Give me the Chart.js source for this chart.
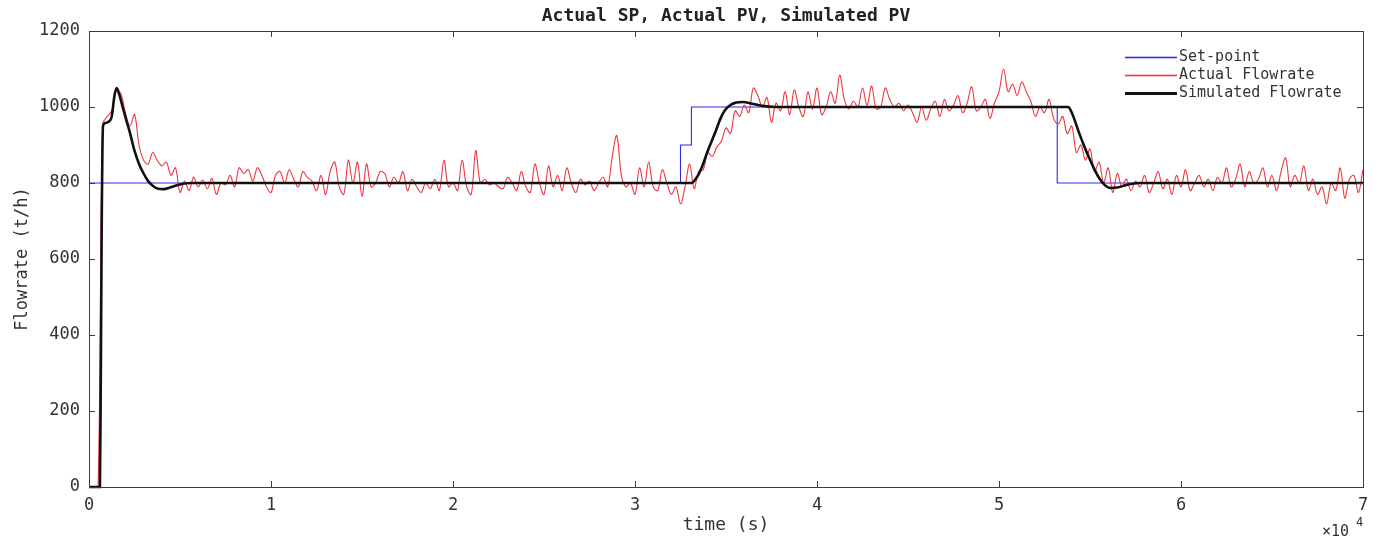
<!DOCTYPE html>
<html>
<head>
<meta charset="utf-8">
<title>Actual SP, Actual PV, Simulated PV</title>
<script src="https://cdn.jsdelivr.net/npm/chart.js@4.4.1/dist/chart.umd.min.js"></script>
<style>
  html, body { margin: 0; padding: 0; background: #fff; }
  #wrap { width: 1390px; height: 544px; position: relative; }
</style>
</head>
<body>
<div id="wrap"><canvas id="flowChart"></canvas></div>
<script>
// ── Dados ────────────────────────────────────────────────────
// set-point (degraus)
const spTime  = [0, 32500, 33100, 53200, 70000];
const spValue = [800, 900, 1000, 800, 800];

// vazão real, uma amostra a cada RED_STEP segundos
const RED_STEP = 250;
const actualValue = [
  0, 0, 0, 955, 975, 990, 1045, 1035, 985, 950, 980, 900, 860, 850, 880, 860, 845, 855, 820, 840,
  775, 805, 780, 815, 790, 808, 785, 812, 770, 800, 795, 820, 790, 840, 825, 835, 805, 840, 820, 790,
  775, 820, 830, 800, 835, 810, 790, 830, 815, 805, 780, 820, 770, 830, 855, 790, 770, 860, 800, 855,
  765, 850, 790, 800, 830, 825, 790, 815, 800, 830, 780, 810, 790, 775, 800, 785, 810, 780, 860, 790,
  800, 780, 860, 790, 770, 885, 800, 810, 795, 800, 790, 785, 815, 800, 780, 830, 790, 775, 850, 800,
  770, 845, 790, 820, 780, 840, 800, 775, 810, 795, 805, 780, 800, 815, 790, 870, 925, 820, 790, 800,
  770, 840, 790, 855, 790, 780, 835, 800, 770, 790, 745, 790, 850, 785, 830, 835, 880, 870, 895, 910,
  945, 930, 990, 975, 1005, 985, 1050, 1030, 1000, 1025, 960, 1010, 990, 1040, 980, 1045, 1000, 975, 1040, 995,
  1050, 980, 1000, 1040, 1010, 1084, 1020, 995, 1015, 1000, 1050, 1005, 1055, 995, 1000, 1050, 1020, 1000, 1010, 990,
  1005, 985, 960, 1000, 965, 995, 1015, 975, 1020, 990, 1005, 1030, 985, 1010, 1053, 990, 1000, 1020, 970, 1010,
  1040, 1100, 1040, 1060, 1030, 1066, 1040, 1015, 975, 1000, 985, 1020, 970, 955, 975, 930, 950, 880, 900, 860,
  890, 830, 855, 800, 840, 775, 825, 790, 810, 780, 805, 790, 820, 775, 800, 830, 785, 810, 770, 820,
  790, 835, 780, 800, 820, 790, 810, 780, 815, 800, 840, 790, 810, 850, 790, 830, 800, 810, 840, 790,
  820, 780, 830, 866, 790, 820, 800, 845, 780, 810, 770, 790, 745, 800, 780, 840, 760, 810, 820, 775,
  835
];

// vazão simulada
const simTime = [
  0, 600, 650, 700, 770, 900, 1100, 1250, 1400, 1520, 1650, 1850, 2050, 2250, 2500, 2750, 3000, 3250,
  3500, 3800, 4100, 4500, 5000, 5600,
  33100, 33400, 33700, 34000, 34400, 34700, 34950, 35300, 35900, 36500, 37000, 37700,
  53800, 54000, 54400, 54700, 55000, 55250, 55500, 55800, 56100, 56500, 57000, 57700, 70000
];
const simValue = [
  0, 0, 300, 700, 950, 958, 962, 975, 1030, 1050, 1035, 1000, 965, 932, 885, 850, 825, 805,
  793, 785, 784, 789, 796, 800,
  800, 815, 845, 885, 932, 970, 992, 1007, 1013, 1008, 1003, 1000,
  1000, 985, 932, 895, 861, 835, 813, 795, 787, 788, 795, 800, 800
];

// eixos
const xTicks = [0, 10000, 20000, 30000, 40000, 50000, 60000, 70000];
const yTicks = [0, 200, 400, 600, 800, 1000, 1200];

// ── Estilos ──────────────────────────────────────────────────
const MONO = '"DejaVu Sans Mono", "Liberation Mono", monospace';
const COR_SP  = 'rgb(45,45,235)';
const COR_PV  = 'rgb(238,55,65)';
const COR_SIM = '#111111';

const legendItems = [
  { label: 'Set-point',          color: COR_SP,  width: 1.6 },
  { label: 'Actual Flowrate',    color: COR_PV,  width: 1.6 },
  { label: 'Simulated Flowrate', color: COR_SIM, width: 3 }
];

const toPoints = (xs, ys) => xs.map((x, i) => ({ x, y: ys[i] }));
const actualPoints = actualValue.map((y, i) => ({ x: i * RED_STEP, y }));

// ── Moldura, ticks internos, legenda e expoente ─────────────
const boxPlugin = {
  id: 'matlabBox',
  afterDraw(chart) {
    const c = chart.ctx;
    const a = chart.chartArea;
    const sx = chart.scales.x, sy = chart.scales.y;
    const tl = 6;
    c.save();
    c.strokeStyle = '#3c3c3c';
    c.lineWidth = 1;
    c.strokeRect(Math.round(a.left) + 0.5, Math.round(a.top) + 0.5,
                 Math.round(a.right - a.left), Math.round(a.bottom - a.top));

    c.beginPath();
    sx.ticks.forEach(t => {
      const px = Math.round(sx.getPixelForValue(t.value)) + 0.5;
      c.moveTo(px, a.bottom); c.lineTo(px, a.bottom - tl);
      c.moveTo(px, a.top);    c.lineTo(px, a.top + tl);
    });
    sy.ticks.forEach(t => {
      const py = Math.round(sy.getPixelForValue(t.value)) + 0.5;
      c.moveTo(a.left, py);  c.lineTo(a.left + tl, py);
      c.moveTo(a.right, py); c.lineTo(a.right - tl, py);
    });
    c.stroke();

    // legenda
    c.font = '15px ' + MONO;
    c.textBaseline = 'middle';
    c.textAlign = 'left';
    legendItems.forEach((it, i) => {
      const y = 57 + i * 18;
      c.fillStyle = it.color;
      c.fillRect(1125, y - it.width / 2 + 0.5, 52, it.width);
      c.fillStyle = '#333';
      c.fillText(it.label, 1179, y);
    });

    // ×10^4
    c.fillStyle = '#333';
    c.font = '15px ' + MONO;
    c.fillText('\u00d710', 1322, 532);
    c.font = '12px ' + MONO;
    c.fillText('4', 1356, 523);
    c.restore();
  }
};

// ── Gráfico ──────────────────────────────────────────────────
const canvas = document.getElementById('flowChart');

new Chart(canvas.getContext('2d'), {
  type: 'line',
  data: {
    datasets: [
      {
        label: 'Simulated Flowrate',
        data: toPoints(simTime, simValue),
        borderColor: COR_SIM,
        borderWidth: 2.6,
        cubicInterpolationMode: 'monotone',
        order: 0,
        clip: 4
      },
      {
        label: 'Actual Flowrate',
        data: actualPoints,
        borderColor: COR_PV,
        borderWidth: 1.1,
        tension: 0.35,
        order: 1,
        clip: 4
      },
      {
        label: 'Set-point',
        data: toPoints(spTime, spValue),
        borderColor: COR_SP,
        borderWidth: 1.1,
        stepped: true,
        order: 2,
        clip: 4
      }
    ]
  },
  options: {
    responsive: true,
    maintainAspectRatio: false,
    animation: false,
    elements: {
      point: { radius: 0, hoverRadius: 0 },
      line: { tension: 0, fill: false }
    },
    layout: { padding: { left: 0, right: 27, top: 0, bottom: 0 } },
    plugins: {
      legend: { display: false },
      tooltip: { enabled: false },
      title: {
        display: true,
        fullSize: false,
        text: 'Actual SP, Actual PV, Simulated PV',
        color: '#222',
        font: { family: MONO, size: 18, weight: 'bold' },
        padding: { top: 6, bottom: 3.4 }
      }
    },
    scales: {
      x: {
        type: 'linear',
        min: 0,
        max: 70000,
        afterFit: s => { s.height = 57; },
        afterBuildTicks: s => { s.ticks = xTicks.map(v => ({ value: v })); },
        grid: { display: false, drawTicks: false },
        border: { display: false },
        ticks: {
          color: '#333',
          padding: 8,
          maxRotation: 0,
          font: { family: MONO, size: 17 },
          callback: v => String(v / 10000)
        },
        title: {
          display: true,
          text: 'time (s)',
          color: '#333',
          font: { family: MONO, size: 18 },
          padding: { top: 0, bottom: 8 }
        }
      },
      y: {
        min: 0,
        max: 1200,
        afterFit: s => { s.width = 89; },
        afterBuildTicks: s => { s.ticks = yTicks.map(v => ({ value: v })); },
        grid: { display: false, drawTicks: false },
        border: { display: false },
        ticks: {
          color: '#333',
          padding: 9,
          font: { family: MONO, size: 17 },
          callback: v => String(v)
        },
        title: {
          display: true,
          text: 'Flowrate (t/h)',
          color: '#333',
          font: { family: MONO, size: 17 },
          padding: { top: 12, bottom: 0 }
        }
      }
    }
  },
  plugins: [boxPlugin]
});
</script>
</body>
</html>
